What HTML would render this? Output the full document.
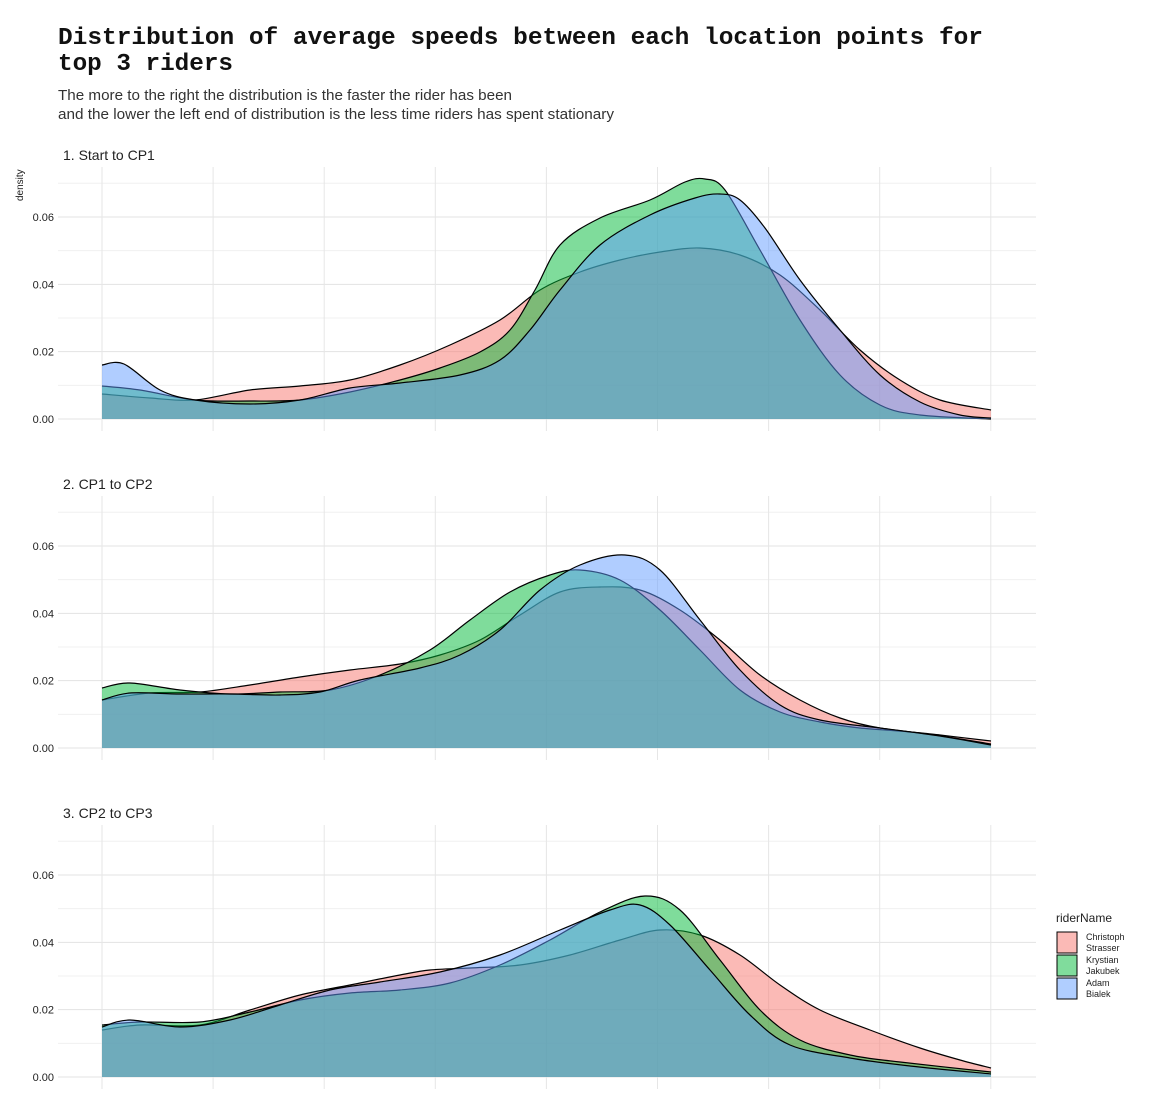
<!DOCTYPE html>
<html><head><meta charset="utf-8"><style>
body{margin:0;background:#fff}
svg{display:block;font-family:"Liberation Sans",sans-serif}
</style></head><body>
<svg id="s" width="1157" height="1115" viewBox="0 0 1157 1115" xmlns="http://www.w3.org/2000/svg">
<text x="58" y="44" font-family="Liberation Mono,monospace" font-weight="bold" font-size="24" fill="#111" textLength="925" lengthAdjust="spacingAndGlyphs">Distribution of average speeds between each location points for</text>
<text x="58" y="70" font-family="Liberation Mono,monospace" font-weight="bold" font-size="24" fill="#111" textLength="175" lengthAdjust="spacingAndGlyphs">top 3 riders</text>
<text x="58" y="100" font-size="15" fill="#333" textLength="454" lengthAdjust="spacingAndGlyphs">The more to the right the distribution is the faster the rider has been</text>
<text x="58" y="119" font-size="15" fill="#333" textLength="556" lengthAdjust="spacingAndGlyphs">and the lower the left end of distribution is the less time riders has spent stationary</text>
<text transform="translate(23,201) rotate(-90)" font-size="10" fill="#222">density</text>
<g id="panels"></g>
<g font-size="11" fill="#222">
<text x="1056" y="922" font-size="12">riderName</text>
<rect x="1057" y="932" width="20" height="21" fill="#FBBAB6" stroke="#000"/>
<rect x="1057" y="955" width="20" height="21" fill="#80DC9C" stroke="#000"/>
<rect x="1057" y="978" width="20" height="21" fill="#B0CEFF" stroke="#000"/>
<g font-size="9"><text x="1086" y="940">Christoph</text><text x="1086" y="951">Strasser</text>
<text x="1086" y="963">Krystian</text><text x="1086" y="974">Jakubek</text>
<text x="1086" y="986">Adam</text><text x="1086" y="997">Bialek</text></g>
</g>
</svg>
<script>
const NS="http://www.w3.org/2000/svg";
const g=document.getElementById("panels");
function el(t,a,txt){const e=document.createElementNS(NS,t);for(const k in a)e.setAttribute(k,a[k]);if(txt)e.textContent=txt;g.appendChild(e);return e;}
function path(p){let d="M"+p[0][0]+","+p[0][1];for(let i=0;i<p.length-1;i++){const p0=p[Math.max(i-1,0)],p1=p[i],p2=p[i+1],p3=p[Math.min(i+2,p.length-1)];
const c1=[p1[0]+(p2[0]-p0[0])/6,p1[1]+(p2[1]-p0[1])/6],c2=[p2[0]-(p3[0]-p1[0])/6,p2[1]-(p3[1]-p1[1])/6];
d+=" C"+c1+" "+c2+" "+p2;}return d;}
const titles=["1. Start to CP1","2. CP1 to CP2","3. CP2 to CP3"];
const data=[
[
[[102,394],[150,398],[195,400],[250,390],[300,386],[350,380],[400,365],[450,345],[500,320],[540,290],[580,272],[620,260],[660,252],[700,248],[740,255],[780,275],[820,310],[860,350],[900,380],[940,400],[991,410]],
[[102,386],[140,390],[195,400],[250,401],[300,400],[350,392],[400,380],[440,368],[480,352],[510,330],[535,290],[560,245],[600,218],[650,200],[685,182],[705,179],[725,190],[760,250],[800,320],[840,375],[880,405],[920,415],[991,419]],
[[102,365],[124,364],[160,390],[195,400],[250,404],[300,400],[350,388],[400,383],[460,375],[500,360],[530,330],[560,290],[600,245],[650,215],[695,198],[720,194],[740,200],[765,228],[800,280],[840,330],[880,375],[920,402],[960,415],[991,418]]
],[
[[102,700],[150,693],[200,692],[250,685],[300,677],[350,670],[400,664],[440,655],[480,640],[520,615],[560,592],[600,587],[640,590],[680,610],[720,640],[760,675],[800,700],[840,718],[880,728],[940,735],[991,741]],
[[102,688],[130,683],[180,690],[230,694],[280,692],[330,690],[380,675],[430,650],[470,620],[510,592],[550,575],[580,570],[620,580],[660,610],[700,650],[740,690],[780,712],[820,722],[860,728],[920,733],[991,744]],
[[102,700],[130,693],[180,694],[230,694],[280,695],[320,692],[360,680],[420,668],[460,655],[500,630],[540,590],[580,565],[625,555],[660,570],[700,620],[740,670],[780,705],[820,720],[880,728],[940,736],[991,745]]
],[
[[102,1030],[140,1025],[200,1025],[250,1010],[300,995],[350,985],[400,975],[430,970],[470,968],[520,965],[570,955],[620,940],[660,930],[700,935],[740,955],[780,985],[820,1010],[870,1030],[920,1048],[960,1060],[991,1068]],
[[102,1025],[140,1022],[200,1022],[250,1012],[300,1000],[350,993],[400,990],[450,983],[500,965],[550,940],[600,912],[645,896],[680,910],[720,960],[760,1010],[800,1040],[850,1055],[900,1062],[991,1072]],
[[102,1027],[130,1020],[180,1027],[230,1020],[280,1005],[330,990],[380,982],[440,972],[500,955],[560,930],[610,910],[640,905],[670,925],[710,970],[750,1015],[790,1045],[850,1058],[910,1066],[991,1074]]
]];
const cols=["#F8766D","#00BA38","#619CFF"];
for(let p=0;p<3;p++){
 const z=419+329*p, u=33.67, top=167+329*p;
 el("text",{x:63,y:160+329*p,"font-size":14,fill:"#222"},titles[p]);
 for(let k=0;k<=7;k++){const y=z-k*u; if(y<top)break; el("line",{x1:58,x2:1036,y1:y,y2:y,stroke:k%2?"#f0f0f0":"#e3e3e3","stroke-width":1});}
 for(let i=0;i<9;i++){const x=102+i*111.1;el("line",{x1:x,x2:x,y1:top,y2:z+12,stroke:"#e6e6e6"});}
 for(let k=0;k<=6;k+=2)el("text",{x:54,y:z-k*u+4,"font-size":11,fill:"#222","text-anchor":"end"},"0.0"+k);
 for(let c=0;c<3;c++){const pts=data[p][c];const cp=path(pts);
  el("path",{d:cp+" L991,"+z+" L102,"+z+" Z",fill:cols[c],"fill-opacity":0.5,stroke:"none"});
  el("path",{d:cp,fill:"none",stroke:"#000","stroke-width":1.2});}
}
</script>
</body></html>
